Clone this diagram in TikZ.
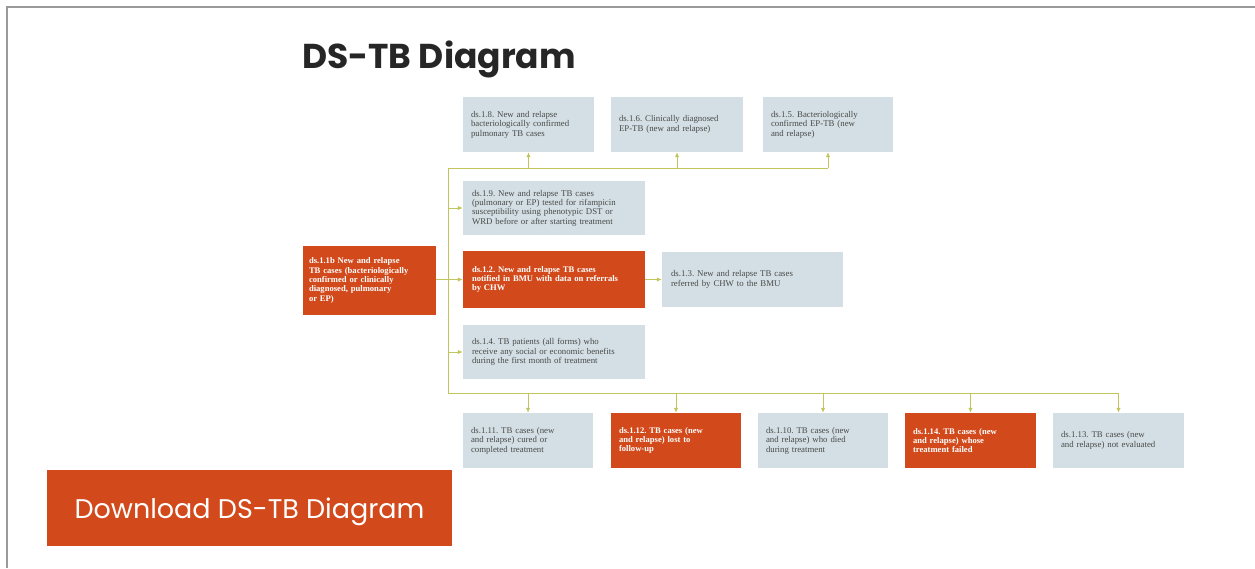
\documentclass[tikz,border=0pt]{standalone}
\usepackage{fontspec}
\setmainfont{Liberation Serif}
\newfontfamily\titlefont{Poppins}
\usetikzlibrary{arrows.meta}
\definecolor{boxgray}{HTML}{D3DFE4}
\definecolor{boxorange}{HTML}{D2491B}
\definecolor{conncol}{HTML}{C2C45C}
\definecolor{txtgray}{HTML}{4A4A4A}
\definecolor{framegray}{HTML}{9A9A9A}
\tikzset{
  gbox/.style={rectangle, fill=boxgray, text=txtgray, align=left, inner xsep=9pt, inner ysep=0pt,
    font=\fontsize{8.8}{9.4}\selectfont\frenchspacing},
  obox/.style={gbox, fill=boxorange, text=white, font=\fontsize{8.6}{9.4}\selectfont\bfseries\frenchspacing},
  conn/.style={draw=conncol, line width=1pt},
  arr/.style={conn, -{Latex[length=5pt,width=4.5pt]}},
}
\begin{document}
\begin{tikzpicture}[x=1pt,y=-1pt]
\useasboundingbox (0,0) rectangle (1255,568);
\fill[white] (0,0) rectangle (1255,568);
\draw[framegray, line width=1.5pt] (7,568) -- (7,7) -- (1255,7);

\node[font=\titlefont\bfseries\fontsize{34.5}{40}\selectfont, text=black!85] (title) at (439,59) {DS-TB Diagram};

% top row
\node[gbox, minimum width=131pt, text width=115pt, minimum height=55pt, inner xsep=8pt] (n8) at (528.5,124.5)
  {ds.1.8. New and relapse\\bacteriologically confirmed\\pulmonary TB cases};
\node[gbox, minimum width=132pt, text width=116pt, minimum height=55pt, inner xsep=8pt] (n6) at (677,124.5)
  {ds.1.6. Clinically diagnosed\\EP-TB (new and relapse)\\[9.4pt]};
\node[gbox, minimum width=130pt, text width=114pt, minimum height=55pt, inner xsep=8pt] (n5) at (828,124.5)
  {ds.1.5. Bacteriologically\\confirmed EP-TB (new\\and relapse)};

% middle column
\node[gbox, minimum width=182pt, text width=164pt, minimum height=54pt] (n9) at (554,208)
  {ds.1.9. New and relapse TB cases\\(pulmonary or EP) tested for rifampicin\\susceptibility using phenotypic DST or\\WRD before or after starting treatment};
\node[obox, minimum width=182pt, text width=164pt, minimum height=57pt] (n2) at (554,279.5)
  {ds.1.2. New and relapse TB cases\\notified in BMU with data on referrals\\by CHW};
\node[gbox, minimum width=181pt, text width=163pt, minimum height=55pt] (n3) at (752.5,279.5)
  {ds.1.3. New and relapse TB cases\\referred by CHW to the BMU};
\node[gbox, minimum width=182pt, text width=164pt, minimum height=54pt] (n4) at (554,352)
  {ds.1.4. TB patients (all forms) who\\receive any social or economic benefits\\during the first month of treatment};

% left box
\node[obox, minimum width=133pt, text width=121pt, minimum height=69pt, inner xsep=6pt] (n1b) at (369.5,280.5)
  {ds.1.1b New and relapse\\TB cases (bacteriologically\\confirmed or clinically\\diagnosed, pulmonary\\or EP)};

% bottom row
\node[gbox, minimum width=130pt, text width=114pt, minimum height=55pt, inner xsep=8pt] (n11) at (528,440.5)
  {ds.1.11. TB cases (new\\and relapse) cured or\\completed treatment\\[3pt]};
\node[obox, minimum width=130pt, text width=114pt, minimum height=55pt, inner xsep=8pt] (n12) at (676,440.5)
  {ds.1.12. TB cases (new\\and relapse) lost to\\follow-up\\[3pt]};
\node[gbox, minimum width=130pt, text width=114pt, minimum height=55pt, inner xsep=8pt] (n10) at (823,440.5)
  {ds.1.10. TB cases (new\\and relapse) who died\\during treatment\\[3pt]};
\node[obox, minimum width=131pt, text width=115pt, minimum height=55pt, inner xsep=8pt] (n14) at (970.5,440.5)
  {ds.1.14. TB cases (new\\and relapse) whose\\treatment failed\\[3pt]};
\node[gbox, minimum width=131pt, text width=115pt, minimum height=55pt, inner xsep=8pt] (n13) at (1118.5,440.5)
  {ds.1.13. TB cases (new\\and relapse) not evaluated\\[3pt]};

% download button
\node[fill=boxorange, minimum width=405pt, minimum height=76pt] (dl) at (249.5,508) {};
\node[text=white, font=\titlefont\fontsize{27}{32}\selectfont] (dltext) at ([yshift=-4pt]dl.center) {Download DS-TB Diagram};

% connectors
\coordinate (tTop) at (448,168);
\coordinate (tBot) at (448,393);
\draw[conn] (tTop) -- (tBot);
\draw[conn] (tTop) -- (tTop -| n5.south);
\draw[arr] (tTop -| n8.south) -- (n8.south);
\draw[arr] (tTop -| n6.south) -- (n6.south);
\draw[arr] (tTop -| n5.south) -- (n5.south);
\draw[arr] (tTop |- n9.west) -- (n9.west);
\draw[arr] (n1b.east |- n2.west) -- (n2.west);
\draw[arr] (tTop |- n4.west) -- (n4.west);
\draw[arr] (n2.east) -- (n3.west);
\draw[conn] (tBot) -- (tBot -| n13.north);
\draw[arr] (tBot -| n11.north) -- (n11.north);
\draw[arr] (tBot -| n12.north) -- (n12.north);
\draw[arr] (tBot -| n10.north) -- (n10.north);
\draw[arr] (tBot -| n14.north) -- (n14.north);
\draw[arr] (tBot -| n13.north) -- (n13.north);
\end{tikzpicture}
\end{document}
